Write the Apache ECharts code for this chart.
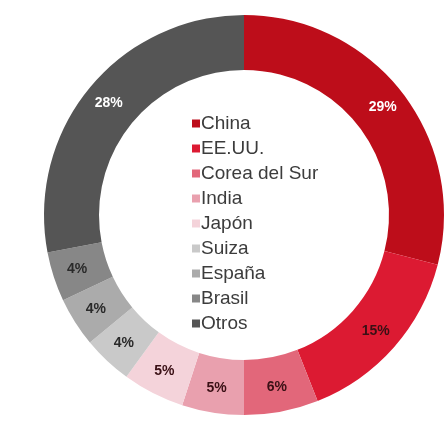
<!DOCTYPE html>
<html>
<head>
<meta charset="utf-8">
<script src="https://cdn.jsdelivr.net/npm/echarts@6/dist/echarts.min.js"></script>
<style>
  html, body { margin: 0; padding: 0; background: #fff; }
  #chart { width: 446px; height: 423px; }
</style>
</head>
<body>
<div id="chart"></div>
<script>
const countries = ['China', 'EE.UU.', 'Corea del Sur', 'India', 'Japón', 'Suiza', 'España', 'Brasil', 'Otros']
const shares = [29, 15, 6, 5, 5, 4, 4, 4, 28]
const colors = ['#bd0d1a', '#dc1a32', '#e2677a', '#e9a0ae', '#f4d3da', '#c9c9c9', '#ababab', '#878787', '#555555']
const labelColors = ['#ffffff', '#3a1015', '#3a1015', '#3a1015', '#3a1015', '#2a2a2a', '#2a2a2a', '#2a2a2a', '#ffffff']

const chart = echarts.init(document.getElementById('chart'))

const option = {
  animation: false,
  color: colors,
  legend: {
    orient: 'vertical',
    left: 187,
    top: 109,
    itemWidth: 8,
    itemHeight: 8,
    itemGap: 6,
    icon: 'rect',
    textStyle: {
      color: '#3c3c3c',
      fontSize: 19,
      fontFamily: 'Liberation Sans, Arial, sans-serif',
      padding: [0, 0, 0, -4],
    },
    data: countries,
  },
  series: [
    {
      type: 'pie',
      center: [244, 215],
      radius: [145, 200],
      startAngle: 90,
      clockwise: true,
      avoidLabelOverlap: false,
      label: {
        position: 'inside',
        formatter: '{c}%',
        fontSize: 14,
        fontWeight: 'bold',
        fontFamily: 'Liberation Sans, Arial, sans-serif',
      },
      labelLine: { show: false },
      data: countries.map((name, i) => ({
        name: name,
        value: shares[i],
        label: { color: labelColors[i] },
      })),
    },
  ],
}

chart.setOption(option)
</script>
</body>
</html>
